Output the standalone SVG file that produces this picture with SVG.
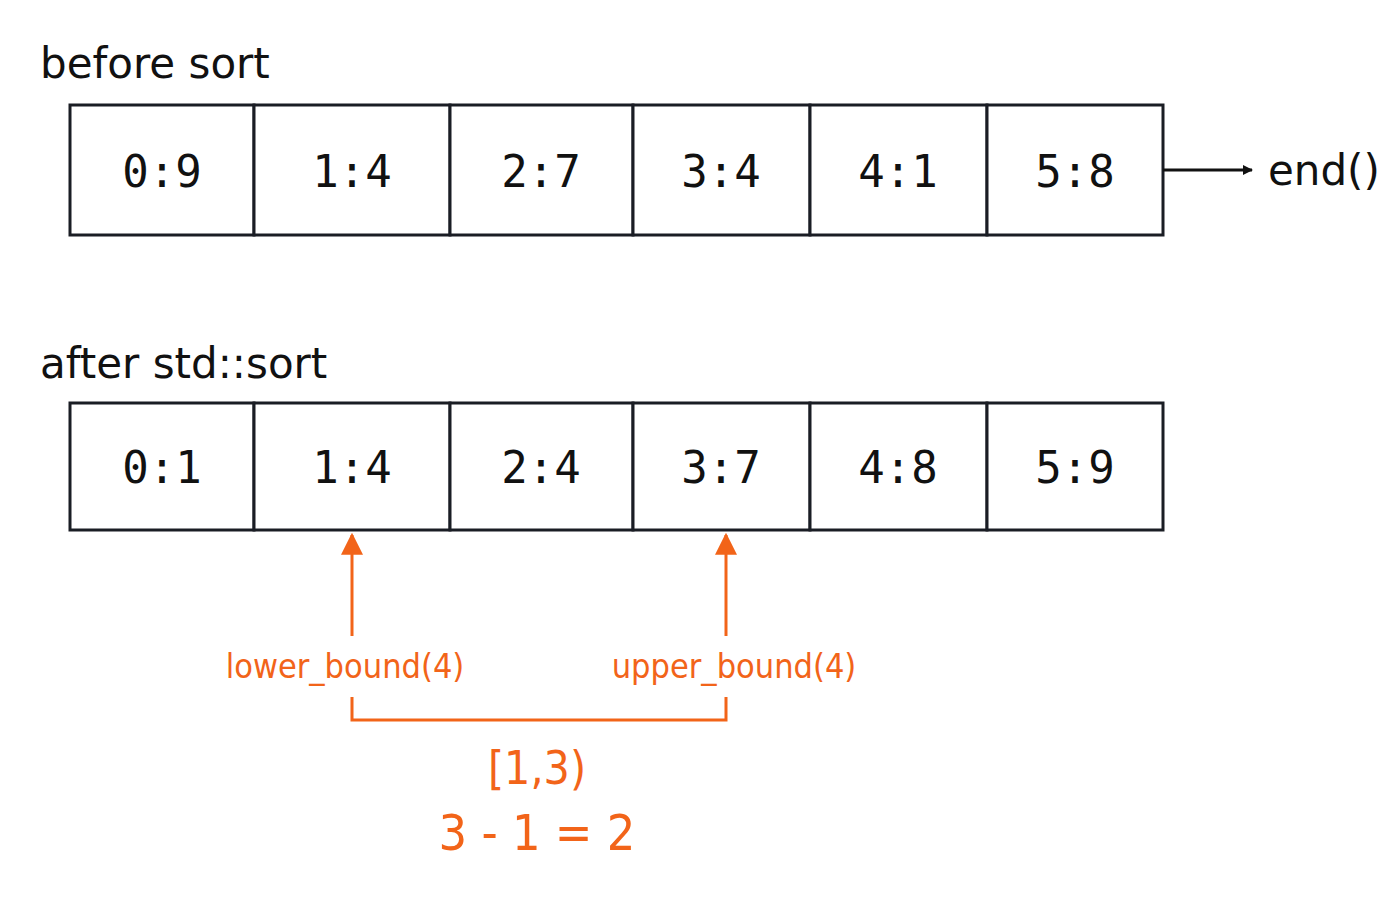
<svg xmlns="http://www.w3.org/2000/svg" width="1400" height="900" viewBox="0 0 1400 900">
<style>
.cell{fill:#fff;stroke:#1a1d24;stroke-width:3}
.v{font-family:"DejaVu Sans Mono",monospace;font-size:44px;fill:#111;text-anchor:middle}
.t{font-family:"DejaVu Sans","Liberation Sans",sans-serif;font-size:42px;fill:#111}
.o{font-family:"DejaVu Sans Condensed","DejaVu Sans",sans-serif;fill:#f26419;text-anchor:middle}
.ol{stroke:#f26419;stroke-width:3;fill:none}
</style>
<defs>
<marker id="ak" markerWidth="10" markerHeight="10" refX="9" refY="5" orient="auto" markerUnits="userSpaceOnUse" viewBox="0 0 10 10"><path d="M0,0L10,5L0,10z" fill="#111"/></marker>
<marker id="ao" viewBox="0 0 10 10" refX="9" refY="5" markerWidth="22" markerHeight="22" orient="auto" markerUnits="userSpaceOnUse"><path d="M0,0L10,5L0,10z" fill="#f26419"/></marker>
</defs>
<rect width="1400" height="900" fill="#fff"/>
<text class="t" x="40" y="78">before sort</text>
<text class="t" x="40" y="378">after std::sort</text>
<g id="before">
<rect class="cell" x="70" y="105" width="184" height="130"/><text class="v" x="162" y="187">0:9</text>
<rect class="cell" x="254" y="105" width="196" height="130"/><text class="v" x="352" y="187">1:4</text>
<rect class="cell" x="450" y="105" width="183" height="130"/><text class="v" x="541" y="187">2:7</text>
<rect class="cell" x="633" y="105" width="177" height="130"/><text class="v" x="721" y="187">3:4</text>
<rect class="cell" x="810" y="105" width="177" height="130"/><text class="v" x="898" y="187">4:1</text>
<rect class="cell" x="987" y="105" width="176" height="130"/><text class="v" x="1075" y="187">5:8</text>
</g>
<g id="after">
<rect class="cell" x="70" y="403" width="184" height="127"/><text class="v" x="162" y="483">0:1</text>
<rect class="cell" x="254" y="403" width="196" height="127"/><text class="v" x="352" y="483">1:4</text>
<rect class="cell" x="450" y="403" width="183" height="127"/><text class="v" x="541" y="483">2:4</text>
<rect class="cell" x="633" y="403" width="177" height="127"/><text class="v" x="721" y="483">3:7</text>
<rect class="cell" x="810" y="403" width="177" height="127"/><text class="v" x="898" y="483">4:8</text>
<rect class="cell" x="987" y="403" width="176" height="127"/><text class="v" x="1075" y="483">5:9</text>
</g>
<g id="connectors">
<line x1="1163" y1="170" x2="1252" y2="170" stroke="#111" stroke-width="3" marker-end="url(#ak)"/>
<line class="ol" x1="352" y1="636" x2="352" y2="535" marker-end="url(#ao)"/>
<line class="ol" x1="726" y1="636" x2="726" y2="535" marker-end="url(#ao)"/>
<path class="ol" d="M352,697V720H726V697"/>
</g>
<text class="t" x="1268" y="185">end()</text>
<text class="o" x="345" y="678" font-size="34">lower_bound(4)</text>
<text class="o" x="734" y="678" font-size="34">upper_bound(4)</text>
<text class="o" x="537" y="784" font-size="46">[1,3)</text>
<text class="o" x="537" y="850" font-size="50">3 - 1 = 2</text>
</svg>
